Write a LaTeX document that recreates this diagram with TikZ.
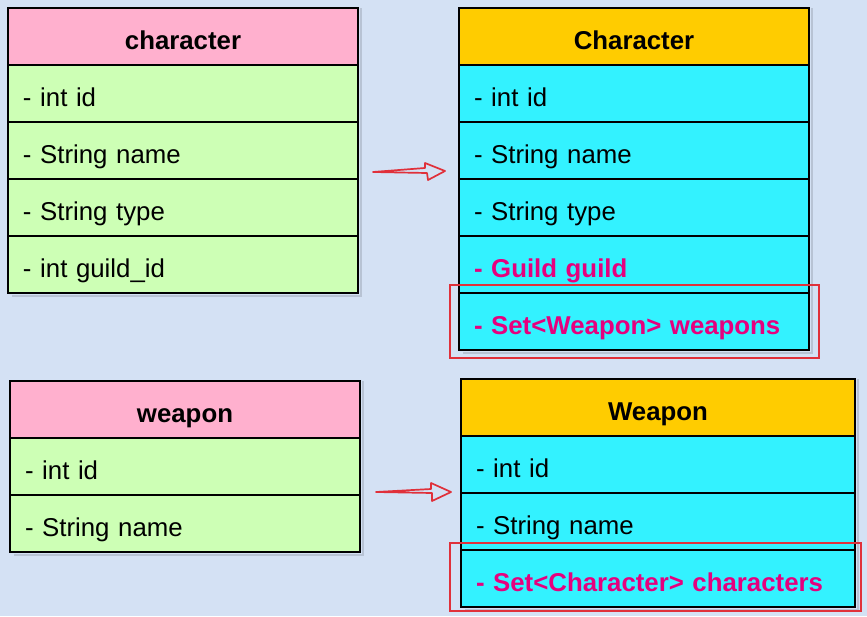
\documentclass[tikz,border=0pt]{standalone}
\usepackage{fontspec}
\setmainfont{Liberation Sans}
\usetikzlibrary{positioning}
\definecolor{bgblue}{HTML}{D4E1F4}
\definecolor{pinkhd}{HTML}{FFB0CE}
\definecolor{greenrw}{HTML}{CDFFB5}
\definecolor{orangehd}{HTML}{FFCC00}
\definecolor{cyanrw}{HTML}{33F2FF}
\definecolor{magtxt}{HTML}{E6007E}
\definecolor{hlred}{HTML}{E0303A}
\begin{document}
\begin{tikzpicture}[x=1pt,y=-1pt,
  cell/.style={draw=black,line width=1.8pt,minimum height=57pt,inner xsep=15pt,inner ysep=0pt,
    outer sep=0pt,text height=25pt,text depth=0pt,font=\fontsize{25.8}{30}\selectfont},
  head/.style={cell,align=center,font=\fontsize{25.8}{30}\selectfont\bfseries},
  row/.style={cell,align=left},
  newrow/.style={row,text=magtxt,font=\fontsize{25.8}{30}\selectfont\bfseries},
  shade/.style={fill=black,opacity=0.13},
  hlbox/.style={draw=hlred,line width=1.3pt},
  hlarrow/.style={draw=hlred,line width=1.7pt,line join=round}]
\fill[bgblue] (0,0) rectangle (867,616);
\useasboundingbox (0,0) rectangle (867,616);
% table character
\node[head,fill=pinkhd,text width=320pt,anchor=north west] (ch) at (8,8) {character};
\node[row,fill=greenrw,text width=320pt,below=0pt of ch] (ch1) {- int id};
\node[row,fill=greenrw,text width=320pt,below=0pt of ch1] (ch2) {- String name};
\node[row,fill=greenrw,text width=320pt,below=0pt of ch2] (ch3) {- String type};
\node[row,fill=greenrw,text width=320pt,below=0pt of ch3] (ch4) {- int guild\_id};
% table weapon
\node[head,fill=pinkhd,text width=320pt,anchor=north west] (wp) at (10,381) {weapon};
\node[row,fill=greenrw,text width=320pt,below=0pt of wp] (wp1) {- int id};
\node[row,fill=greenrw,text width=320pt,below=0pt of wp1] (wp2) {- String name};
% class Character
\node[head,fill=orangehd,text width=320pt,anchor=north west] (CH) at (459,8) {Character};
\node[row,fill=cyanrw,text width=320pt,below=0pt of CH] (CH1) {- int id};
\node[row,fill=cyanrw,text width=320pt,below=0pt of CH1] (CH2) {- String name};
\node[row,fill=cyanrw,text width=320pt,below=0pt of CH2] (CH3) {- String type};
\node[newrow,fill=cyanrw,text width=320pt,below=0pt of CH3] (CH4) {- Guild guild};
\node[newrow,fill=cyanrw,text width=320pt,below=0pt of CH4] (CH5) {- Set<Weapon> weapons};
% class Weapon
\node[head,fill=orangehd,text width=364pt,anchor=north west] (WP) at (461,379) {Weapon};
\node[row,fill=cyanrw,text width=364pt,below=0pt of WP] (WP1) {- int id};
\node[row,fill=cyanrw,text width=364pt,below=0pt of WP1] (WP2) {- String name};
\node[newrow,fill=cyanrw,text width=364pt,below=0pt of WP2] (WP3) {- Set<Character> characters};
% shadows
\fill[shade] ([shift={(1.8pt,0pt)}]ch.north east) rectangle ([shift={(4pt,-4pt)}]ch4.south east);
\fill[shade] ([shift={(4pt,-1.8pt)}]ch4.south west) rectangle ([shift={(1.8pt,-4pt)}]ch4.south east);
\fill[shade] ([shift={(1.8pt,0pt)}]wp.north east) rectangle ([shift={(4pt,-4pt)}]wp2.south east);
\fill[shade] ([shift={(4pt,-1.8pt)}]wp2.south west) rectangle ([shift={(1.8pt,-4pt)}]wp2.south east);
\fill[shade] ([shift={(1.8pt,0pt)}]CH.north east) rectangle ([shift={(4pt,-4pt)}]CH5.south east);
\fill[shade] ([shift={(4pt,-1.8pt)}]CH5.south west) rectangle ([shift={(1.8pt,-4pt)}]CH5.south east);
\fill[shade] ([shift={(1.8pt,0pt)}]WP.north east) rectangle ([shift={(4pt,-4pt)}]WP3.south east);
\fill[shade] ([shift={(4pt,-1.8pt)}]WP3.south west) rectangle ([shift={(1.8pt,-4pt)}]WP3.south east);
% highlights
\draw[hlbox] (450,285) rectangle (819,358);
\draw[hlbox] (450,543) rectangle (861,611);
% arrows
\coordinate (a1) at (373,172);
\coordinate (a1tip) at (445,171);
\draw[hlarrow] (a1) -- ++(52,-4) -- ++(0,-5) -- (a1tip) -- ++(-17,9) -- ++(-1,-7) -- cycle;
\coordinate (a2) at (376,492);
\coordinate (a2tip) at (451,492);
\draw[hlarrow] (a2) -- ++(55,-3) -- ++(0,-6) -- (a2tip) -- ++(-19,9) -- ++(0,-8) -- cycle;
\end{tikzpicture}
\end{document}
